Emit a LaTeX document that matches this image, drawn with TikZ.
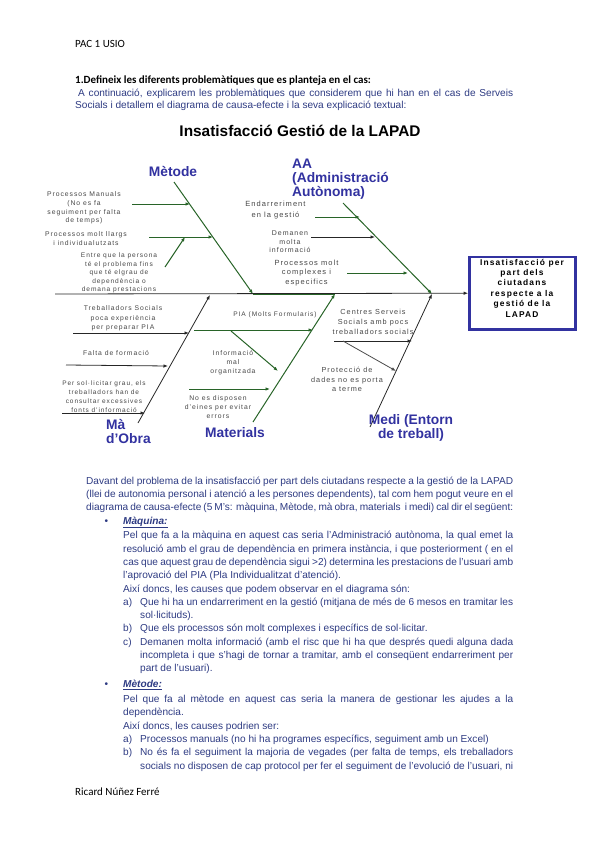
\documentclass[tikz,border=0pt]{standalone}
\usepackage{fontspec}
\setmainfont{Liberation Sans}
\newfontfamily\calfont{Carlito}
\newfontfamily\lblfont[LetterSpace=14]{Liberation Sans}
\usetikzlibrary{arrows.meta}
\definecolor{bodyblue}{RGB}{45,58,130}
\definecolor{catblue}{RGB}{50,50,160}
\definecolor{bonegreen}{RGB}{40,100,40}
\definecolor{lblgray}{RGB}{70,70,70}

\begin{document}
\begin{tikzpicture}[x=1pt, y=-1pt, >={Latex[length=4.5pt,width=3.5pt]},
  lbl/.style 2 args={font=\lblfont\fontsize{#1}{#2}\selectfont, text=lblgray, align=center, inner sep=0},
  cat/.style={font=\bfseries\fontsize{13.8}{14}\selectfont, text=catblue, inner sep=0},
  grn/.style={->, bonegreen, line width=1pt},
  blk/.style={->, black!85, line width=0.8pt},
  body/.style={font=\fontsize{10.1}{13.3}\selectfont, text=bodyblue, inner sep=0, anchor=north west, align=justify}]
  \useasboundingbox (0,0) rectangle (599,848);

  % page head
  \node[anchor=base west, font=\calfont\fontsize{11}{13}\selectfont, inner sep=0] (hdr) at (75,48) {PAC 1 USIO};
  \node[anchor=base west, font=\calfont\bfseries\fontsize{11}{13}\selectfont, inner sep=0] (q1) at (75,84) {1.Defineix les diferents problemàtiques que es planteja en el cas:};
  \node[body, font=\fontsize{10.1}{12}\selectfont, text width=438pt] (intro) at (75,88.5) {\hspace*{3pt}A continuació, explicarem les problemàtiques que considerem que hi han en el cas de Serveis\linebreak Socials i detallem el diagrama de causa-efecte i la seva explicació textual:};
  \node[anchor=base, font=\bfseries\fontsize{15.4}{17}\selectfont, inner sep=0] (title) at (300,136) {Insatisfacció Gestió de la LAPAD};

  % spine and effect
  \coordinate (sp0) at (55,294);
  \node[draw=catblue, line width=2.5pt, minimum width=106pt, minimum height=72.5pt, inner sep=0] (eff) at (522.4,293.2) {};
  \node[font=\lblfont\bfseries\fontsize{8.4}{10.4}\selectfont, align=center, inner sep=0] (efftxt) at (522,288) {Insatisfacció per\\part dels\\ciutadans\\respecte a la\\gestió de la\\LAPAD};
  \draw[blk] (sp0) -- (eff.west);

  % bones
  \coordinate (m0) at (174,182); \coordinate (m1) at (253,294);
  \coordinate (a0) at (343,203); \coordinate (a1) at (432,294);
  \coordinate (o0) at (138,423); \coordinate (o1) at (210,295);
  \coordinate (t0) at (253,422); \coordinate (t1) at (335,294);
  \coordinate (d0) at (370,427); \coordinate (d1) at (432,294);
  \draw[bonegreen, line width=1pt] (m1) -- (t1);
  \draw[grn] (m0) -- (m1);
  \draw[grn] (a0) -- (a1);
  \draw[blk] (o0) -- (o1);
  \draw[grn] (t0) -- (t1);
  \draw[blk] (d0) -- (d1);

  \node[cat] (met) at (173,172) {Mètode};
  \node[cat, anchor=west, align=left] (aa) at (292,179) {AA\\(Administració\\Autònoma)};
  \node[cat, anchor=west, align=left] (mo) at (106,432) {Mà\\d’Obra};
  \node[cat] (mat) at (235,433) {Materials};
  \node[cat, align=center] (medi) at (411,428) {Medi (Entorn\\de treball)};

  % Metode causes
  \node[lbl={6.8}{8.7}] (l1) at (84,208) {Processos Manuals\\(No es fa\\seguiment per falta\\de temps)};
  \node[lbl={6.8}{9}] (l2) at (86,238.5) {Processos molt llargs\\i individualutzats};
  \node[lbl={6.6}{8.5}] (l3) at (119,273) {Entre que la persona\\té el problema fins\\que té elgrau de\\dependència o\\demana prestacions};
  \coordinate (c1a) at (132,204); \coordinate (c1b) at (190,204);
  \coordinate (c2a) at (149,237); \coordinate (c2b) at (213,237);
  \coordinate (c3a) at (165,267); \coordinate (c3b) at (185,237);
  \draw[grn] (c1a) -- (c1b);
  \draw[grn] (c2a) -- (c2b);
  \draw[grn] (c3a) -- (c3b);

  % AA causes
  \node[lbl={7.5}{11}] (l4) at (275.5,210.5) {Endarreriment\\en la gestió};
  \node[lbl={7}{8.5}] (l5) at (290,242) {Demanen\\molta\\informació};
  \node[lbl={7.5}{9.5}] (l6) at (306.5,272.8) {Processos molt\\complexes i\\especifics};
  \coordinate (c4a) at (315,217); \coordinate (c4b) at (360,217);
  \coordinate (c5a) at (311,237); \coordinate (c5b) at (375,237);
  \coordinate (c6a) at (347,273); \coordinate (c6b) at (408,273);
  \draw[grn] (c4a) -- (c4b);
  \draw[blk] (c5a) -- (c5b);
  \draw[grn] (c6a) -- (c6b);

  % Ma d'obra causes
  \node[lbl={6.8}{9.5}] (l7) at (123,318.5) {Treballadors Socials\\poca experiència\\per preparar PIA};
  \node[lbl={6.8}{9}] (l8) at (116,353) {Falta de formació};
  \node[lbl={6.5}{8.8}] (l9) at (104,396.5) {Per sol·licitar grau, els\\treballadors han de\\consultar excessives\\fonts d’informació};
  \coordinate (c7a) at (73,333); \coordinate (c7b) at (189,333);
  \coordinate (c8a) at (66,365); \coordinate (c8b) at (168,366);
  \coordinate (c9a) at (62,413); \coordinate (c9b) at (145,413);
  \draw[blk] (c7a) -- (c7b);
  \draw[blk] (c8a) -- (c8b);
  \draw[blk] (c9a) -- (c9b);

  % Materials causes
  \node[lbl={6.6}{9}] (l10) at (275,315) {PIA (Molts Formularis)};
  \node[lbl={6.8}{9.3}] (l11) at (233,362.5) {Informació\\mal\\organitzada};
  \node[lbl={6.8}{8.9}] (l12) at (218,407) {No es disposen\\d’eines per evitar\\errors};
  \coordinate (c10a) at (194,330); \coordinate (c10b) at (313,330);
  \coordinate (c11a) at (231,331); \coordinate (c11b) at (278,371);
  \coordinate (c12a) at (189,389); \coordinate (c12b) at (270,389);
  \draw[grn] (c10a) -- (c10b);
  \draw[grn] (c11a) -- (c11b);
  \draw[grn] (c12a) -- (c12b);

  % Medi causes
  \node[lbl={7.3}{9.7}] (l13) at (373,322) {Centres Serveis\\Socials amb pocs\\treballadors socials};
  \node[lbl={7.3}{9.5}] (l14) at (347,379.5) {Protecció de\\dades no es porta\\a terme};
  \coordinate (c13a) at (334,341); \coordinate (c13b) at (412,341);
  \coordinate (c14a) at (343,341); \coordinate (c14b) at (396,371);
  \draw[blk] (c13a) -- (c13b);
  \draw[blk, black!70] (c14a) -- (c14b);

  % text below
  \node[body, text width=427pt] (txt) at (86,476.5) {%
    \parfillskip=0pt
    Davant del problema de la insatisfacció per part dels ciutadans respecte a la gestió de la LAPAD\linebreak
    (llei de autonomia personal i atenció a les persones dependents), tal com hem pogut veure en el\linebreak
    diagrama de causa-efecte (5 M’s: màquina, Mètode, mà obra, materials \ i medi) cal dir el següent:\par
    \parfillskip=0pt plus 1fil \leftskip=37pt
    \hspace*{-18.5pt}\makebox[18.5pt][l]{•}\textbf{\textit{\underline{Màquina:}}}\par\vspace{1.5pt}
    Pel que fa a la màquina en aquest cas seria l’Administració autònoma, la qual emet la\linebreak
    resolució amb el grau de dependència en primera instància, i que posteriorment ( en el\linebreak
    cas que aquest grau de dependència sigui >2) determina les prestacions de l’usuari amb\linebreak
    l’aprovació del PIA (Pla Individualitzat d’atenció).\par
    Així doncs, les causes que podem observar en el diagrama són:\par
    \hangindent=17pt\hangafter=1\makebox[17pt][l]{a)}Que hi ha un endarreriment en la gestió (mitjana de més de 6 mesos en tramitar les\linebreak sol·licituds).\par
    \hangindent=17pt\hangafter=1\makebox[17pt][l]{b)}Que els processos són molt complexes i específics de sol·licitar.\par
    \hangindent=17pt\hangafter=1\makebox[17pt][l]{c)}Demanen molta informació (amb el risc que hi ha que després quedi alguna dada\linebreak incompleta i que s’hagi de tornar a tramitar, amb el conseqüent endarreriment per\linebreak part de l’usuari).\par\vspace{2.7pt}
    \hspace*{-18.5pt}\makebox[18.5pt][l]{•}\textbf{\textit{\underline{Mètode:}}}\par\vspace{1.5pt}
    Pel que fa al mètode en aquest cas seria la manera de gestionar les ajudes a la\linebreak
    dependència.\par
    Així doncs, les causes podrien ser:\par
    \hangindent=17pt\hangafter=1\makebox[17pt][l]{a)}Processos manuals (no hi ha programes específics, seguiment amb un Excel)\par
    \parfillskip=0pt
    \hangindent=17pt\hangafter=1\makebox[17pt][l]{b)}No és fa el seguiment la majoria de vegades (per falta de temps, els treballadors\linebreak socials no disposen de cap protocol per fer el seguiment de l’evolució de l’usuari, ni\par};

  % foot
  \node[anchor=base west, font=\calfont\fontsize{11}{13}\selectfont, inner sep=0] (ftr) at (75,795) {Ricard Núñez Ferré};
\end{tikzpicture}
\end{document}
